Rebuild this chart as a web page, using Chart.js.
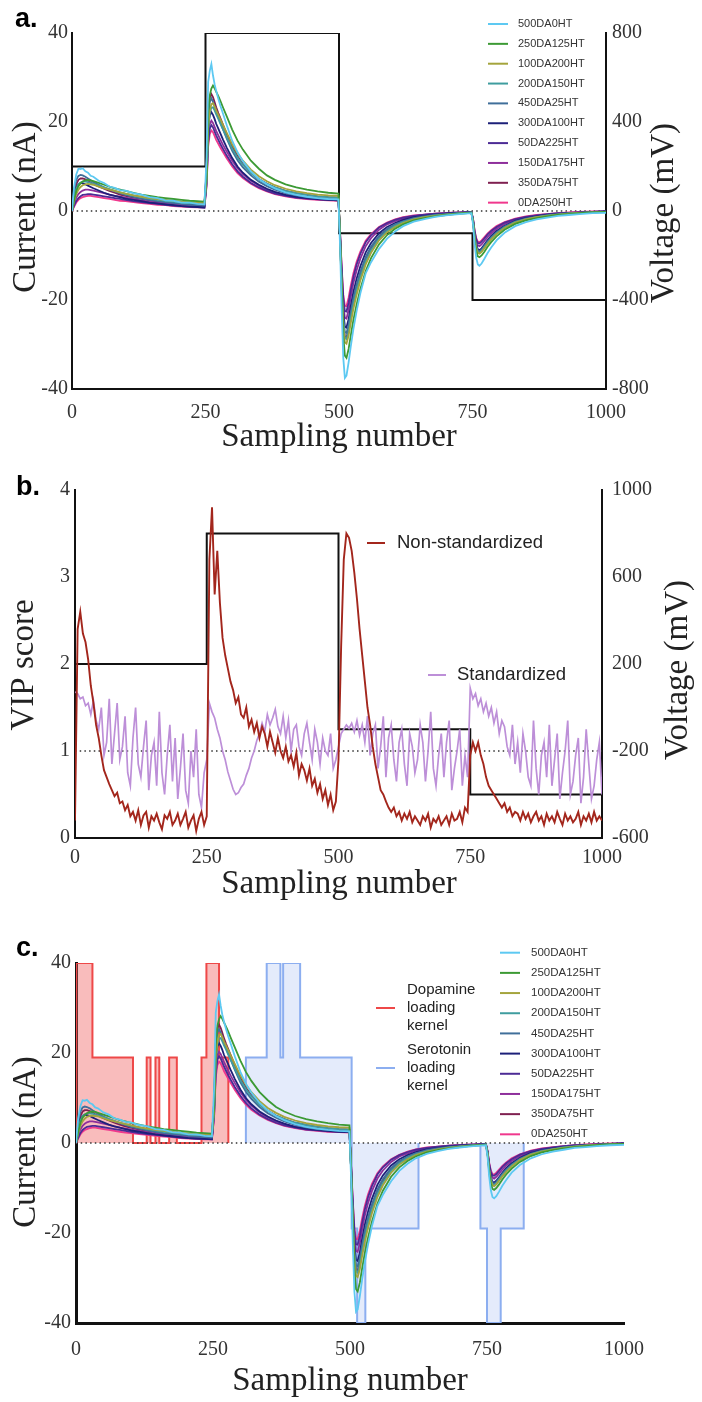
<!DOCTYPE html>
<html><head><meta charset="utf-8">
<script src="https://cdn.jsdelivr.net/npm/chart.js@4.4.1/dist/chart.umd.min.js"></script>
<style>
html,body{margin:0;padding:0;background:#fff;}
#wrap{position:relative;width:702px;height:1402px;background:#fff;}
canvas{position:absolute;left:0;}
</style>
</head><body>
<div id="wrap">
<canvas id="ca" width="702" height="460" style="top:0px;width:702px;height:460px"></canvas>
<canvas id="cb" width="702" height="460" style="top:460px;width:702px;height:460px"></canvas>
<canvas id="cc" width="702" height="482" style="top:920px;width:702px;height:482px"></canvas>
</div>
<script>
// ---------------- DATA ----------------
const xTicks = [0, 250, 500, 750, 1000];
const currentTicks = [-40, -20, 0, 20, 40];
const voltageTicksA = [-800, -400, 0, 400, 800];
const vipTicks = [0, 1, 2, 3, 4];
const voltageTicksB = [-600, -200, 200, 600, 1000];

// applied potential waveform (step starts, mV)
const voltX = [0, 250, 500, 750, 1000];
const voltMV = [200, 800, -100, -400, -400];

// sampling numbers where the current traces were read
const sampleIdx = [0,4,8,12,16,20,25,30,35,40,50,60,70,80,90,100,115,130,145,160,175,190,205,220,235,248,
 252,255,258,261,264,267,270,274,278,283,290,300,310,320,335,350,365,380,400,420,440,460,480,499,
 502,505,508,511,514,518,522,527,533,540,550,560,575,590,605,620,640,660,680,700,725,748,
 751,754,757,760,763,767,772,778,785,795,810,830,850,870,890,910,930,950,975,1000];

const traceLabels = ['500DA0HT','250DA125HT','100DA200HT','200DA150HT','450DA25HT','300DA100HT','50DA225HT','150DA175HT','350DA75HT','0DA250HT'];
const traceColors = ['#5DC9F2','#3C9A34','#A4A43C','#3F9D9F','#406F9A','#1D2079','#4C2B95','#8E2F9B','#7F2050','#F0388D'];

const cur500DA0HT = [0,5.5,8.2,9.5,9.4,9.6,8.9,8.6,7.9,7.7,6.8,6.3,5.5,5.2,4.7,4.6,4.0,3.7,3.1,2.9,2.4,2.3,1.9,1.9,1.6,1.5,
 12,29,31.5,33,30.5,28.5,27,25.2,23.6,21.8,19.2,15.8,13.2,11.2,8.9,7.2,6.0,5.1,4.2,3.6,3.2,2.9,2.7,2.6,
 -8,-22,-33,-37.5,-37,-34,-30.5,-26.5,-22.5,-18.5,-14,-11.5,-8.5,-6.2,-4.6,-3.4,-2.4,-1.8,-1.3,-1.0,-0.7,-0.5,
 -3,-7.5,-10.5,-12,-12.3,-11.8,-10.8,-9.5,-8.2,-6.6,-4.9,-3.4,-2.5,-1.9,-1.5,-1.1,-0.9,-0.7,-0.5,-0.4];
const cur250DA125HT = [0,2.5,4.5,5.6,6.2,6.6,6.9,7.0,6.9,6.7,6.3,5.9,5.5,5.1,4.8,4.5,4.1,3.7,3.4,3.1,2.9,2.7,2.5,2.3,2.2,2.1,
 8,22,26,27.5,28.2,27.6,26.8,25.8,24.7,23.2,21.2,18.3,15.8,13.8,11.3,9.5,8.0,7.0,6.0,5.3,4.8,4.4,4.1,3.9,
 -6,-18,-28,-32.5,-33,-31,-28,-24.5,-21,-17.5,-13.5,-10.6,-7.5,-5.4,-4.0,-3.0,-2.1,-1.6,-1.2,-0.9,-0.6,-0.4,
 -2.5,-6.5,-9,-10.2,-10.4,-10,-9.2,-8.1,-7.0,-5.7,-4.2,-2.9,-2.1,-1.6,-1.2,-0.9,-0.7,-0.5,-0.3,-0.2];
const cur100DA200HT = [0,2.2,3.8,4.8,5.4,5.8,6.0,6.1,6.0,5.9,5.5,5.1,4.8,4.5,4.2,3.9,3.5,3.2,2.9,2.7,2.5,2.3,2.1,2.0,1.9,1.8,
 7,19,22.5,24,24.2,23.5,22.6,21.6,20.6,19.3,17.5,15.0,13.0,11.3,9.3,7.8,6.7,5.8,5.0,4.4,4.0,3.7,3.5,3.4,
 -6,-17,-26,-29.5,-29.8,-28,-25.2,-22,-18.8,-15.6,-12.0,-9.4,-6.6,-4.8,-3.6,-2.7,-1.9,-1.4,-1.1,-0.8,-0.6,-0.4,
 -2.3,-6,-8.4,-9.4,-9.6,-9.2,-8.4,-7.4,-6.4,-5.2,-3.8,-2.6,-1.9,-1.4,-1.1,-0.8,-0.6,-0.4,-0.3,-0.2];
const cur200DA150HT = [0,3.0,5.0,6.0,6.4,6.6,6.6,6.5,6.3,6.1,5.7,5.3,4.9,4.5,4.2,3.9,3.5,3.1,2.8,2.5,2.3,2.1,1.9,1.8,1.7,1.6,
 7,18.5,22,23.2,23.3,22.6,21.7,20.7,19.6,18.3,16.5,14.0,12.0,10.4,8.5,7.1,6.1,5.3,4.5,4.0,3.6,3.3,3.1,3.0,
 -6,-16.5,-25,-28.5,-28.8,-27,-24.2,-21,-17.8,-14.8,-11.3,-8.8,-6.2,-4.5,-3.3,-2.5,-1.8,-1.4,-1.0,-0.8,-0.5,-0.4,
 -2.3,-5.9,-8.2,-9.2,-9.4,-9.0,-8.2,-7.2,-6.2,-5.0,-3.7,-2.5,-1.8,-1.4,-1.0,-0.8,-0.6,-0.4,-0.3,-0.2];
const cur450DA25HT = [0,4.8,7.0,7.9,8.1,8.0,7.7,7.3,6.9,6.5,5.9,5.3,4.8,4.4,4.0,3.6,3.2,2.8,2.5,2.2,2.0,1.8,1.6,1.4,1.3,1.2,
 9,21,24.5,25.3,24.6,23.5,22.3,21.0,19.8,18.3,16.2,13.5,11.4,9.8,8.0,6.6,5.6,4.8,4.0,3.5,3.1,2.9,2.7,2.6,
 -6,-16,-24,-27.2,-27.4,-25.6,-22.8,-19.6,-16.5,-13.6,-10.3,-8.0,-5.6,-4.0,-3.0,-2.3,-1.6,-1.2,-0.9,-0.7,-0.5,-0.3,
 -2.2,-5.6,-7.9,-8.9,-9.1,-8.7,-7.9,-6.9,-5.9,-4.8,-3.5,-2.4,-1.7,-1.3,-1.0,-0.7,-0.5,-0.4,-0.3,-0.2];
const cur300DA100HT = [0,3.5,5.2,6.0,6.3,6.2,6.0,5.7,5.4,5.1,4.6,4.1,3.7,3.4,3.1,2.8,2.5,2.2,1.9,1.7,1.5,1.3,1.1,1.0,0.9,0.8,
 8,19,21.5,22.2,21.6,20.7,19.6,18.5,17.4,16.0,14.2,11.9,10.0,8.6,7.0,5.9,5.0,4.3,3.6,3.2,2.9,2.7,2.5,2.4,
 -5.5,-15,-22.8,-26,-26.2,-24.3,-21.4,-18.2,-15.2,-12.4,-9.3,-7.2,-5.0,-3.6,-2.7,-2.0,-1.4,-1.1,-0.8,-0.6,-0.4,-0.3,
 -2.1,-5.4,-7.6,-8.6,-8.8,-8.4,-7.6,-6.6,-5.6,-4.5,-3.3,-2.2,-1.6,-1.2,-0.9,-0.7,-0.5,-0.4,-0.2,-0.1];
const cur50DA225HT = [0,1.2,2.2,2.9,3.3,3.6,3.7,3.8,3.8,3.7,3.5,3.3,3.1,2.9,2.7,2.5,2.2,2.0,1.8,1.6,1.4,1.2,1.1,1.0,0.9,0.8,
 6,15.5,18.5,19.3,18.8,17.9,17.0,16.0,15.0,13.9,12.4,10.5,8.9,7.7,6.3,5.3,4.5,3.9,3.4,3.0,2.8,2.6,2.5,2.4,
 -5,-13,-19.5,-22.5,-22.6,-20.6,-17.8,-14.8,-12.0,-9.6,-7.0,-5.4,-3.7,-2.7,-2.0,-1.5,-1.1,-0.8,-0.6,-0.5,-0.3,-0.2,
 -1.8,-4.6,-6.4,-7.2,-7.3,-6.9,-6.2,-5.3,-4.5,-3.6,-2.6,-1.8,-1.3,-1.0,-0.7,-0.5,-0.4,-0.3,-0.2,-0.1];
const cur150DA175HT = [0,1.8,3.0,3.8,4.3,4.6,4.8,4.8,4.7,4.6,4.3,4.0,3.7,3.4,3.2,3.0,2.7,2.4,2.1,1.9,1.7,1.5,1.4,1.3,1.2,1.1,
 6.5,16.5,19.5,20.3,19.8,18.9,18.0,17.0,16.0,14.8,13.3,11.3,9.6,8.3,6.8,5.7,4.8,4.2,3.6,3.2,2.9,2.7,2.6,2.5,
 -5,-14,-21,-24,-24.2,-22.2,-19.3,-16.2,-13.3,-10.7,-7.9,-6.1,-4.2,-3.0,-2.3,-1.7,-1.2,-0.9,-0.7,-0.5,-0.4,-0.3,
 -1.9,-4.9,-6.9,-7.7,-7.9,-7.5,-6.8,-5.9,-5.0,-4.0,-2.9,-2.0,-1.4,-1.1,-0.8,-0.6,-0.4,-0.3,-0.2,-0.1];
const cur350DA75HT = [0,4.0,6.0,7.0,7.3,7.3,7.1,6.8,6.4,6.1,5.5,5.0,4.5,4.1,3.7,3.4,3.0,2.7,2.4,2.1,1.9,1.7,1.5,1.4,1.3,1.2,
 9,22,25.5,26.3,25.6,24.5,23.3,22.0,20.8,19.3,17.2,14.5,12.3,10.6,8.6,7.2,6.1,5.3,4.5,4.0,3.6,3.3,3.1,3.0,
 -6,-16.5,-25.2,-28.2,-28.4,-26.6,-23.8,-20.6,-17.4,-14.4,-11.0,-8.5,-6.0,-4.3,-3.2,-2.4,-1.7,-1.3,-1.0,-0.7,-0.5,-0.3,
 -2.2,-5.7,-8.0,-9.0,-9.2,-8.8,-8.0,-7.0,-6.0,-4.9,-3.6,-2.4,-1.7,-1.3,-1.0,-0.7,-0.5,-0.4,-0.3,-0.2];
const cur0DA250HT = [0,1.0,1.9,2.5,2.9,3.1,3.3,3.4,3.4,3.3,3.1,2.9,2.7,2.5,2.3,2.2,2.0,1.8,1.6,1.4,1.3,1.1,1.0,0.9,0.8,0.8,
 5.5,14.5,17.3,18.1,17.7,16.9,16.0,15.1,14.2,13.2,11.8,10.0,8.5,7.4,6.1,5.1,4.4,3.8,3.3,2.9,2.7,2.5,2.4,2.3,
 -4.8,-12.5,-18.8,-21.3,-21.4,-19.5,-16.8,-14.0,-11.4,-9.1,-6.7,-5.2,-3.6,-2.6,-1.9,-1.4,-1.0,-0.8,-0.6,-0.4,-0.3,-0.2,
 -1.7,-4.4,-6.1,-6.9,-7.0,-6.6,-5.9,-5.1,-4.3,-3.4,-2.5,-1.7,-1.2,-0.9,-0.7,-0.5,-0.3,-0.2,-0.1,-0.1];
const traceValues = [cur500DA0HT, cur250DA125HT, cur100DA200HT, cur200DA150HT, cur450DA25HT,
  cur300DA100HT, cur50DA225HT, cur150DA175HT, cur350DA75HT, cur0DA250HT];

// VIP scores, read every 5 samples (0..1000)
const vipStep = 5;
const vipNonStandardized = [
 0.2,2.4,2.6,2.35,2.25,2.05,1.75,1.55,1.3,1.15,
 0.95,0.78,0.7,0.62,0.55,0.48,0.52,0.4,0.42,0.32,
 0.38,0.25,0.3,0.2,0.32,0.15,0.26,0.3,0.12,0.25,
 0.2,0.28,0.18,0.1,0.26,0.22,0.3,0.15,0.2,0.28,
 0.15,0.22,0.3,0.12,0.2,0.26,0.08,0.22,0.3,0.15,
 0.25,3.2,3.8,2.8,3.3,2.7,2.3,2.1,1.95,1.8,
 1.7,1.55,1.62,1.42,1.38,1.5,1.28,1.36,1.22,1.32,
 1.15,1.28,1.2,1.05,1.22,1.1,0.98,1.15,1.0,0.92,
 1.05,0.88,0.95,0.82,0.98,0.72,0.85,0.78,0.66,0.8,
 0.6,0.68,0.52,0.62,0.45,0.55,0.38,0.5,0.32,0.42,
 0.9,2.2,3.2,3.5,3.45,3.3,3.05,2.75,2.4,2.1,
 1.8,1.5,1.3,1.05,0.85,0.7,0.55,0.5,0.42,0.35,
 0.3,0.35,0.25,0.3,0.2,0.28,0.22,0.3,0.18,0.25,
 0.2,0.15,0.25,0.2,0.28,0.12,0.22,0.18,0.25,0.15,
 0.2,0.25,0.15,0.28,0.2,0.22,0.3,0.18,0.35,0.3,
 0.95,1.1,1.0,1.1,0.95,0.85,0.7,0.6,0.55,0.5,
 0.45,0.4,0.35,0.4,0.3,0.35,0.25,0.3,0.28,0.2,
 0.3,0.22,0.28,0.18,0.25,0.3,0.2,0.25,0.15,0.28,
 0.2,0.25,0.18,0.3,0.22,0.15,0.28,0.2,0.25,0.18,
 0.22,0.3,0.15,0.25,0.2,0.28,0.18,0.3,0.2,0.25,
 0.2];
const vipStandardized = [
 1.68,1.66,1.6,1.62,1.52,1.55,1.42,1.58,1.35,1.25,
 1.5,0.95,1.1,1.6,0.85,1.2,1.55,0.9,1.05,1.4,
 0.75,0.6,1.15,1.5,0.85,0.7,1.05,1.35,0.55,0.95,
 1.1,0.6,1.45,0.75,0.5,0.95,1.3,0.65,1.15,0.45,
 0.8,1.2,0.55,0.4,1.0,0.7,1.25,0.5,0.35,0.75,
 0.9,1.55,1.45,1.38,1.25,1.15,1.0,0.9,0.76,0.66,
 0.56,0.5,0.52,0.58,0.62,0.72,0.8,0.92,1.0,1.12,
 1.2,1.32,1.22,1.42,1.3,1.38,1.48,1.28,1.2,1.4,
 1.15,1.35,1.0,1.25,1.3,1.05,0.95,1.2,1.32,1.1,
 0.9,1.25,1.1,0.85,1.15,1.0,0.95,1.2,0.8,0.9,
 1.05,1.2,1.25,1.3,1.26,1.32,1.22,1.35,1.18,1.3,
 1.1,1.4,0.95,1.2,1.3,0.8,1.05,1.4,0.7,1.15,
 1.3,0.9,0.65,1.1,1.25,0.85,0.6,1.2,1.05,0.75,
 0.9,1.3,1.1,0.65,1.0,1.45,0.8,0.6,0.95,1.2,
 0.7,1.1,1.35,0.55,0.8,1.0,1.25,0.6,0.95,0.7,
 1.72,1.6,1.66,1.52,1.6,1.45,1.55,1.4,1.5,1.32,
 1.45,1.2,1.35,1.28,1.05,0.95,1.3,0.85,1.1,0.75,
 1.2,1.0,0.7,0.6,1.35,0.8,0.5,0.95,1.1,0.7,
 1.3,0.6,0.9,1.2,0.45,0.75,1.0,1.35,0.5,0.65,
 0.95,1.15,0.4,0.7,1.25,0.85,0.45,0.6,0.9,1.1,
 0.5];
const vipThreshold = 1;

// loading kernels (step starts on the sampling axis, level in nA units)
const dopamineKernelX = [0, 0, 30, 104, 129, 136, 145, 152, 170, 184, 229, 238, 261, 278];
const dopamineKernelY = [0, 40, 19, 0, 19, 0, 19, 0, 19, 0, 19, 40, 19, 0];
const serotoninKernelX = [310, 310, 348, 373, 378, 409, 503, 513, 528, 625, 680, 738, 738, 750, 775, 817];
const serotoninKernelY = [0, 19, 40, 19, 40, 19, -19, -40, -19, 0, null, 0, -19, -40, -19, 0];

// ---------------- STYLE / HELPERS ----------------
Chart.defaults.animation = false;
const SERIF = '"Liberation Serif", "Times New Roman", serif';
const SANS = '"Liberation Sans", Arial, sans-serif';
const tickFont = {family: SERIF, size: 20};
const tickColor = '#333';
const titleFont = '33px ' + SERIF;
const pts = (xs, ys) => xs.map((x, i) => ({x: x, y: ys[i]}));

function textPlugin(cfg) {
  return {
    id: 'panelText',
    afterDraw(chart) {
      const ctx = chart.ctx;
      (cfg.items || []).forEach(it => {
        ctx.save();
        ctx.font = it.font; ctx.fillStyle = it.color || '#222';
        ctx.textAlign = it.align || 'center';
        ctx.textBaseline = it.baseline || 'middle';
        ctx.translate(it.x, it.y);
        if (it.rotate) ctx.rotate(it.rotate);
        ctx.fillText(it.text, 0, 0);
        ctx.restore();
      });
      (cfg.legends || []).forEach(lg => {
        const sets = chart.data.datasets.filter(d => d.legendGroup === lg.group);
        sets.forEach((d, i) => {
          const yc = lg.y0 + i * (lg.dy || 0);
          const lines = lg.wrap ? d.label.split(' ') : [d.label];
          ctx.save();
          ctx.strokeStyle = d.borderColor; ctx.lineWidth = lg.swatchWidth || 2;
          ctx.beginPath(); ctx.moveTo(lg.x, yc); ctx.lineTo(lg.x + lg.w, yc); ctx.stroke();
          ctx.font = lg.font; ctx.fillStyle = lg.color || '#222';
          ctx.textAlign = 'left'; ctx.textBaseline = 'middle';
          const n = lines.length;
          lines.forEach((t, k) => ctx.fillText(t, lg.tx, yc + (k - (n - 1) / 2) * (lg.lineDy || 0)));
          ctx.restore();
        });
      });
    }
  };
}

function traceDatasets() {
  return traceLabels.map((lab, i) => ({
    label: lab, data: pts(sampleIdx, traceValues[i]),
    borderColor: traceColors[i], backgroundColor: traceColors[i],
    borderWidth: 1.8, pointRadius: 0, tension: 0, yAxisID: 'y', order: 0, legendGroup: 'trace'
  }));
}
function voltageDataset(width) {
  return {label: 'Voltage', data: pts(voltX, voltMV), stepped: 'before', borderColor: '#111',
    borderWidth: width, pointRadius: 0, yAxisID: 'yV', order: 3};
}
function refLine(yv, axis) {
  return {label: 'ref', data: [{x: xTicks[0], y: yv}, {x: xTicks[xTicks.length - 1], y: yv}],
    borderColor: '#333', borderWidth: 1.3, borderDash: [1.5, 3.2], pointRadius: 0, yAxisID: axis, order: 4};
}
function xScale(h, pad, bw) {
  return {type: 'linear', min: xTicks[0], max: xTicks[xTicks.length - 1],
    afterBuildTicks: s => { s.ticks = xTicks.map(v => ({value: v})); },
    ticks: {font: tickFont, color: tickColor, padding: pad, maxRotation: 0, autoSkip: false, callback: v => String(v)},
    grid: {display: false, drawTicks: false}, border: {display: true, color: '#111', width: bw},
    afterFit: s => { s.height = h; }};
}
function yScale(pos, ticks, w, pad, bw) {
  return {type: 'linear', position: pos, min: ticks[0], max: ticks[ticks.length - 1],
    afterBuildTicks: s => { s.ticks = ticks.map(v => ({value: v})); },
    ticks: {font: tickFont, color: tickColor, padding: pad, callback: v => String(v)},
    grid: {display: false, drawTicks: false}, border: {display: true, color: '#111', width: bw},
    afterFit: s => { s.width = w; }};
}
const common = {responsive: false, animation: false, devicePixelRatio: 1, events: [],
  plugins: {legend: {display: false}, tooltip: {enabled: false}}};

// ---------------- PANEL A ----------------
new Chart(document.getElementById('ca'), {
  type: 'line',
  data: {datasets: [...traceDatasets(), voltageDataset(2), refLine(0, 'y')]},
  options: Object.assign({}, common, {
    layout: {padding: {top: 33, left: 0, right: 0, bottom: 0}},
    scales: {
      x: xScale(71, 12, 2),
      y: yScale('left', currentTicks, 72, 4, 2),
      yV: yScale('right', voltageTicksA, 96, 6, 2)
    }
  }),
  plugins: [textPlugin({
    items: [
      {text: 'a.', x: 15, y: 27, font: 'bold 27px ' + SANS, align: 'left', baseline: 'alphabetic', color: '#000'},
      {text: 'Current (nA)', x: 26, y: 207, rotate: -Math.PI / 2, font: titleFont},
      {text: 'Voltage (mV)', x: 664, y: 213, rotate: -Math.PI / 2, font: titleFont},
      {text: 'Sampling number', x: 339, y: 446, baseline: 'alphabetic', font: titleFont}
    ],
    legends: [{group: 'trace', x: 488, w: 20, tx: 518, y0: 24, dy: 19.85, font: '11px ' + SANS, color: '#333'}]
  })]
});

// ---------------- PANEL B ----------------
const vipX = vipNonStandardized.map((_, i) => i * vipStep);
new Chart(document.getElementById('cb'), {
  type: 'line',
  data: {datasets: [
    {label: 'Non-standardized', data: pts(vipX, vipNonStandardized), borderColor: '#A3261C', borderWidth: 1.9,
      pointRadius: 0, tension: 0, yAxisID: 'y', order: 0, legendGroup: 'ns'},
    {label: 'Standardized', data: pts(vipX, vipStandardized), borderColor: '#BD8FD8', borderWidth: 1.7,
      pointRadius: 0, tension: 0, yAxisID: 'y', order: 1, legendGroup: 'st'},
    voltageDataset(2),
    refLine(vipThreshold, 'y')
  ]},
  options: Object.assign({}, common, {
    layout: {padding: {top: 30, left: 0, right: 0, bottom: 0}},
    scales: {
      x: xScale(82, 8, 2),
      y: yScale('left', vipTicks, 75, 5, 2),
      yV: yScale('right', voltageTicksB, 100, 10, 2)
    }
  }),
  plugins: [textPlugin({
    items: [
      {text: 'b.', x: 16, y: 35, font: 'bold 27px ' + SANS, align: 'left', baseline: 'alphabetic', color: '#000'},
      {text: 'VIP score', x: 24, y: 205, rotate: -Math.PI / 2, font: titleFont},
      {text: 'Voltage (mV)', x: 678, y: 210, rotate: -Math.PI / 2, font: titleFont},
      {text: 'Sampling number', x: 339, y: 433, baseline: 'alphabetic', font: titleFont}
    ],
    legends: [
      {group: 'ns', x: 367, w: 18, tx: 397, y0: 83, font: '18.5px ' + SANS, color: '#222'},
      {group: 'st', x: 428, w: 18, tx: 457, y0: 215, font: '18.5px ' + SANS, color: '#222'}
    ]
  })]
});

// ---------------- PANEL C ----------------
new Chart(document.getElementById('cc'), {
  type: 'line',
  data: {datasets: [
    ...traceDatasets(),
    refLine(0, 'y'),
    {label: 'Dopamine loading kernel', data: pts(dopamineKernelX, dopamineKernelY), stepped: 'before', fill: 'origin',
      backgroundColor: 'rgba(240,95,95,0.42)', borderColor: '#EE4848', borderWidth: 2, pointRadius: 0,
      yAxisID: 'y', order: 10, legendGroup: 'kernel'},
    {label: 'Serotonin loading kernel', data: pts(serotoninKernelX, serotoninKernelY), stepped: 'before', fill: 'origin',
      spanGaps: false, backgroundColor: 'rgba(190,208,245,0.42)', borderColor: '#8CAEF0', borderWidth: 2, pointRadius: 0,
      yAxisID: 'y', order: 9, legendGroup: 'kernel'}
  ]},
  options: Object.assign({}, common, {
    layout: {padding: {top: 43, left: 0, right: 78, bottom: 0}},
    scales: {
      x: xScale(79, 15, 3),
      y: yScale('left', currentTicks, 76, 5, 3)
    }
  }),
  plugins: [textPlugin({
    items: [
      {text: 'c.', x: 16, y: 36, font: 'bold 27px ' + SANS, align: 'left', baseline: 'alphabetic', color: '#000'},
      {text: 'Current (nA)', x: 26, y: 222, rotate: -Math.PI / 2, font: titleFont},
      {text: 'Sampling number', x: 350, y: 470, baseline: 'alphabetic', font: titleFont}
    ],
    legends: [
      {group: 'kernel', x: 376, w: 19, tx: 407, y0: 88, dy: 60, wrap: true, lineDy: 17.8, font: '15px ' + SANS, color: '#222'},
      {group: 'trace', x: 500, w: 20, tx: 531, y0: 32.7, dy: 20.18, font: '11.5px ' + SANS, color: '#333'}
    ]
  })]
});
</script>
</body></html>
